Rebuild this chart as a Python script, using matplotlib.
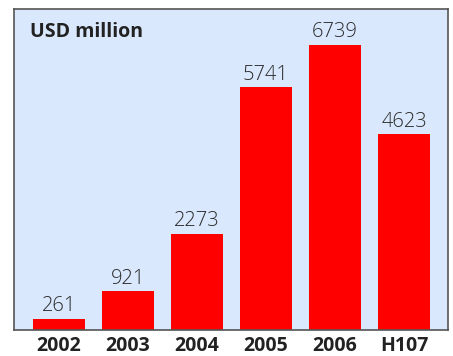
import matplotlib
matplotlib.use("Agg")
import matplotlib.pyplot as plt

categories = ["2002", "2003", "2004", "2005", "2006", "H107"]
values = [261, 921, 2273, 5741, 6739, 4623]

plt.rcParams["font.family"] = ["Open Sans", "DejaVu Sans"]

fig = plt.figure(figsize=(4.53, 3.56), dpi=100)
ax = fig.add_axes([14 / 453, 1 - 330 / 356, 434 / 453, 321 / 356])
ax.set_facecolor("#d9e8fc")

x = list(range(len(categories)))
ax.bar(x, values, width=0.754, color="#ff0000", zorder=2)
for xi, v in zip(x, values):
    ax.text(xi, v + 60, str(v), ha="center", va="bottom", fontsize=14.5,
            fontweight="light", color="#2a2a2a")

ax.set_xlim(-0.652, 5.638)
ax.set_ylim(0, 7590)
ax.set_xticks(x)
ax.set_xticklabels(categories, fontsize=14, fontweight="bold", color="#222222")
ax.tick_params(axis="x", length=0, pad=4)
ax.set_yticks([])
for s in ax.spines.values():
    s.set_color("#555555")
    s.set_linewidth(1.2)

ax.text(0.036, 0.96, "USD million", transform=ax.transAxes, ha="left",
        va="top", fontsize=14, fontweight="bold", color="#222222")

fig.savefig("out.png", dpi=100, facecolor="white")
